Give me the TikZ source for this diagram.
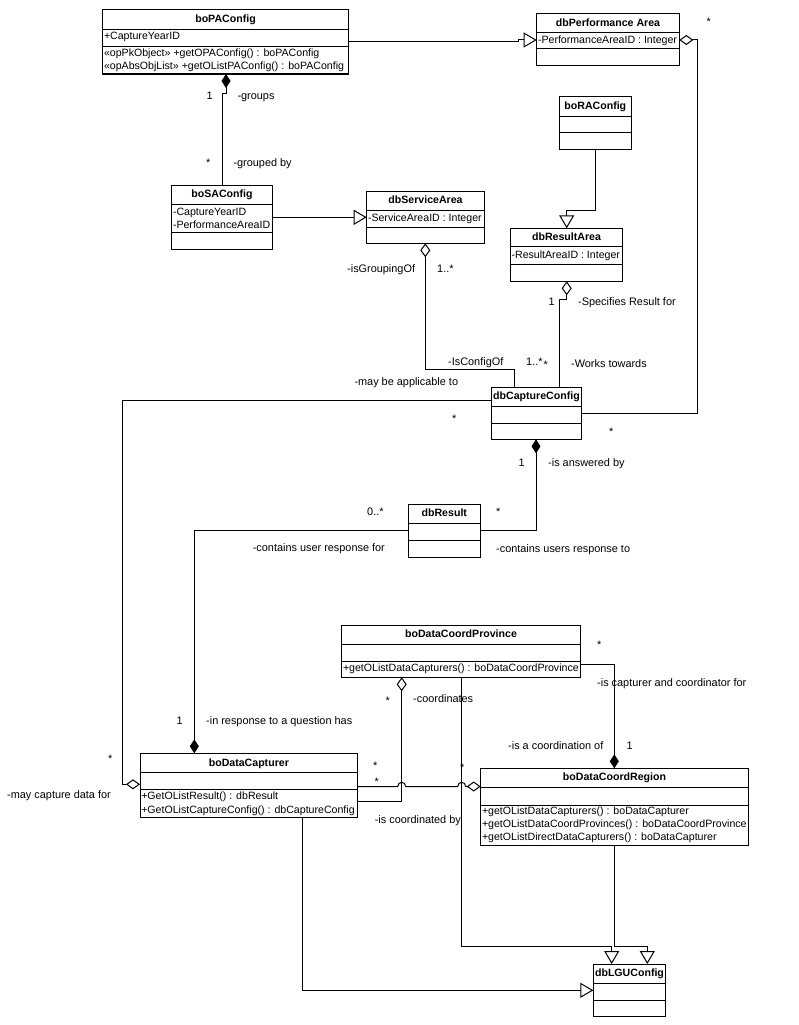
\documentclass[tikz,border=0pt]{standalone}
\usepackage{fontspec}
\setmainfont{Liberation Sans}
\usepackage{tikz}
\usetikzlibrary{arrows.meta}
\tikzset{>=latex}
\tikzstyle{classbox} = [rectangle, draw = black, inner sep = 0, outer sep = 0]
\tikzstyle{classname} = [anchor = base, inner sep = 0, font = \fontsize{10.6}{12}\selectfont\bfseries]
\tikzstyle{member} = [anchor = base west, inner sep = 0, font = \fontsize{10.6}{12}\selectfont]
\tikzstyle{lbl} = [anchor = base west, inner sep = 0, font = \fontsize{10.9}{12}\selectfont]
\tikzstyle{gen} = [-{Triangle[open, length = 13pt, width = 15pt]}]
\tikzstyle{aggr} = [{Diamond[open, length = 14pt, width = 10pt]}-]
\tikzstyle{comp} = [{Diamond[length = 14pt, width = 9pt]}-]
% box, two compartment rules and the class name
\newcommand{\umlclass}[8]{%
\node [classbox, minimum width = {#4-#2}, minimum height = {#5-#3}] (#1) at ({(#2+#4)/2}, {(#3+#5)/2}) {};
\draw (#1.west |- 0,#6) -- (#1.east |- 0,#6);
\draw (#1.west |- 0,#7) -- (#1.east |- 0,#7);
\node [classname] (#1-name) at ({(#2+#4)/2}, {(#3+#6)/2+3}) {#8};
}

\begin{document}
\begin{tikzpicture}[x = 1pt, y = -1pt, line width = 1pt]
\fill [white] (0, 0) rectangle (798, 1025);
\useasboundingbox (0, 0) rectangle (798, 1025);

\umlclass{paconfig}{102.7}{10}{348.3}{74}{29.3}{46.7}{boPAConfig}
\node [member] (paconfig-a1) at (103.5, 39.8) {+CaptureYearID};
\node [member] (paconfig-o1) at (103.5, 56.3) {«opPkObject» +getOPAConfig() : boPAConfig};
\node [member] (paconfig-o2) at (103.5, 69.2) {«opAbsObjList» +getOListPAConfig() : boPAConfig};

\umlclass{perfarea}{536.7}{13.3}{679.3}{66}{33}{49}{dbPerformance Area}
\node [member] (perfarea-a1) at (537.5, 44) {-PerformanceAreaID : Integer};

\umlclass{raconfig}{559.3}{96.7}{631.3}{149.3}{116.7}{132.3}{boRAConfig}

\umlclass{saconfig}{171.7}{185}{272.3}{249.3}{204.3}{232.3}{boSAConfig}
\node [member] (saconfig-a1) at (172.5, 215.5) {-CaptureYearID};
\node [member] (saconfig-a2) at (172.5, 228.3) {-PerformanceAreaID};

\umlclass{servarea}{366.7}{191.7}{484.3}{243.3}{210}{227.3}{dbServiceArea}
\node [member] (servarea-a1) at (367.5, 221.1) {-ServiceAreaID : Integer};

\umlclass{resarea}{510.3}{228.3}{622.7}{281.3}{246}{264.7}{dbResultArea}
\node [member] (resarea-a1) at (511.1, 258.8) {-ResultAreaID : Integer};

\umlclass{capconfig}{491.3}{387.3}{581.7}{439.3}{406.3}{423.7}{dbCaptureConfig}
\umlclass{result}{408.3}{504.3}{480.3}{557}{523.3}{540.3}{dbResult}

\umlclass{province}{341.7}{625.3}{580.3}{677.3}{644.3}{661.7}{boDataCoordProvince}
\node [member] (province-o1) at (342.5, 671.5) {+getOListDataCapturers() : boDataCoordProvince};

\umlclass{capturer}{140}{753.3}{357.7}{817.3}{772.7}{789.3}{boDataCapturer}
\node [member] (capturer-o1) at (140.8, 799.5) {+GetOListResult() : dbResult};
\node [member] (capturer-o2) at (140.8, 813.1) {+GetOListCaptureConfig() : dbCaptureConfig};

\umlclass{region}{480.7}{768.3}{748.3}{845.7}{787.3}{805}{boDataCoordRegion}
\node [member] (region-o1) at (481.5, 814.8) {+getOListDataCapturers() : boDataCapturer};
\node [member] (region-o2) at (481.5, 827.5) {+getOListDataCoordProvinces() : boDataCoordProvince};
\node [member] (region-o3) at (481.5, 840.2) {+getOListDirectDataCapturers() : boDataCapturer};

\umlclass{lguconfig}{593.3}{964}{665.7}{1016.7}{983.3}{1000.7}{dbLGUConfig}

% generalizations
\draw [gen] (paconfig.east |- 0,41.3) -- (518, 41.3) -- (518, 40) -- (perfarea.west |- 0,40);
\draw [gen] (saconfig.east |- 0,217.3) -- (servarea.west |- 0,217.3);
\draw [gen] (raconfig.south -| 595.5,0) -- (595.5, 210) -- (566.7, 210) -- (resarea.north -| 566.7,0);
\draw [gen] (province.south -| 461.7,0) -- (461.7, 946) -- (611.7, 946) -- (lguconfig.north -| 611.7,0);
\draw [gen] (region.south -| 614.3,0) -- (614.3, 946.7) -- (647.3, 946.7) -- (lguconfig.north -| 647.3,0);
\draw [gen] (capturer.south -| 302.3,0) -- (302.3, 990.3) -- (lguconfig.west |- 0,990.3);

% aggregations
\draw [aggr] (perfarea.east |- 0,40) -- (697.7, 40) -- (697.7, 413.3) -- (capconfig.east |- 0,413.3);
\draw [aggr] (servarea.south -| 425.3,0) -- (425.3, 369.3) -- (514.3, 369.3) -- (capconfig.north -| 514.3,0);
\draw [aggr] (resarea.south -| 566.7,0) -- (566.7, 299) -- (559.3, 299) -- (capconfig.north -| 559.3,0);
\draw [aggr] (capturer.west |- 0,784.3) -- (122.3, 784.3) -- (122.3, 400.7) -- (capconfig.west |- 0,400.7);
\draw [aggr] (province.south -| 401.7,0) -- (401.7, 801.5) -- (capturer.east |- 0,801.5);
\draw [aggr] (region.west |- 0,786.5) -- (465.7, 786.5) .. controls (465.7, 781) and (457.7, 781) .. (457.7, 786.5)
  -- (405.7, 786.5) .. controls (405.7, 781) and (397.7, 781) .. (397.7, 786.5) -- (capturer.east |- 0,786.5);

% compositions
\draw [comp] (paconfig.south -| 226,0) -- (226, 93) -- (222, 93) -- (saconfig.north -| 222,0);
\draw [comp] (capconfig.south -| 536,0) -- (536, 530) -- (result.east |- 0,530);
\draw [comp] (capturer.north -| 194.3,0) -- (194.3, 530) -- (result.west |- 0,530);
\draw [comp] (region.north -| 614.3,0) -- (614.3, 664) -- (province.east |- 0,664);

% roles and multiplicities
\node [lbl] (m-groups) at (206, 99.5) {1};
\node [lbl] (r-groups) at (237, 99.5) {-groups};
\node [lbl] (m-groupedby) at (205.5, 166.5) {*};
\node [lbl] (r-groupedby) at (233, 166.8) {-grouped by};
\node [lbl] (m-perfarea) at (706, 25.5) {*};
\node [lbl] (r-grouping) at (346.7, 272.8) {-isGroupingOf};
\node [lbl] (m-grouping) at (436.7, 272.8) {1..*};
\node [lbl] (m-specifies) at (548, 305.8) {1};
\node [lbl] (r-specifies) at (577.7, 305.8) {-Specifies Result for};
\node [lbl] (r-configof) at (447.7, 365.5) {-IsConfigOf};
\node [lbl] (m-configof) at (525.7, 365.5) {1..*};
\node [lbl] (m-works) at (543, 368.5) {*};
\node [lbl] (r-works) at (570.7, 367.8) {-Works towards};
\node [lbl] (r-applicable) at (354, 385.5) {-may be applicable to};
\node [lbl] (m-applicable) at (451.5, 422) {*};
\node [lbl] (m-capperf) at (608.5, 435.5) {*};
\node [lbl] (m-answered) at (518, 466) {1};
\node [lbl] (r-answered) at (547.7, 466) {-is answered by};
\node [lbl] (m-results) at (495.5, 515.5) {*};
\node [lbl] (r-results) at (495.7, 552) {-contains users response to};
\node [lbl] (m-contains) at (366.7, 515.5) {0..*};
\node [lbl] (r-contains) at (252.3, 551.5) {-contains user response for};
\node [lbl] (m-question) at (176, 724.8) {1};
\node [lbl] (r-question) at (205.7, 724.8) {-in response to a question has};
\node [lbl] (m-capture) at (107.5, 762) {*};
\node [lbl] (r-capture) at (6.7, 798.8) {-may capture data for};
\node [lbl] (m-coordinates) at (385, 704.5) {*};
\node [lbl] (r-coordinates) at (412.7, 702.8) {-coordinates};
\node [lbl] (m-capcoord) at (596.5, 648.8) {*};
\node [lbl] (r-capcoord) at (596.7, 686.1) {-is capturer and coordinator for};
\node [lbl] (r-coordination) at (507.7, 749.5) {-is a coordination of};
\node [lbl] (m-coordination) at (626, 749.5) {1};
\node [lbl] (m-capregion) at (372.5, 769.5) {*};
\node [lbl] (m-capprov) at (374, 785.5) {*};
\node [lbl] (m-regioncap) at (459.7, 771.2) {*};
\node [lbl] (r-coordinated) at (374.3, 823.8) {-is coordinated by};
\end{tikzpicture}
\end{document}
